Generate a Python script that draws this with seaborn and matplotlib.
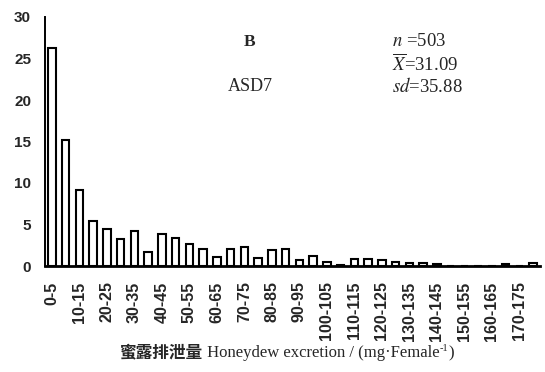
import matplotlib
matplotlib.use("Agg")
import matplotlib.pyplot as plt
import seaborn as sns
import pandas as pd

# honeydew excretion classes (mg per female) and share of females (%)
classes = [f"{lo}-{lo + 5}" for lo in range(0, 180, 5)]
percent = [26.3, 15.2, 9.2, 5.4, 4.4, 3.2, 4.2, 1.7, 3.9, 3.4,
           2.6, 2.1, 1.1, 2.0, 2.3, 1.0, 1.9, 2.1, 0.7, 1.2,
           0.5, 0.1, 0.8, 0.8, 0.7, 0.5, 0.4, 0.4, 0.2, 0.0,
           0.0, 0.0, 0.0, 0.2, 0.0, 0.4]
y_ticks = [0, 5, 10, 15, 20, 25, 30]
tick_labels = classes[::2]

df = pd.DataFrame({"cls": classes, "pct": percent})

sns.set_style("white")
plt.rcParams["mathtext.fontset"] = "stix"

W, H = 545, 372
fig = plt.figure(figsize=(W / 100, H / 100), dpi=100)
ax = fig.add_axes([45 / W, 1 - 266 / H, 495 / W, 249 / H])

sns.barplot(data=df, x="cls", y="pct", order=classes, ax=ax,
            color="white", edgecolor="black", linewidth=1.5, width=0.55,
            saturation=1)

ax.set_xlim(-0.5, len(classes) - 0.5)
ax.set_ylim(0, 30)
for s in ["top", "right"]:
    ax.spines[s].set_visible(False)
ax.spines["left"].set_linewidth(1.4)
ax.spines["bottom"].set_linewidth(2.0)
ax.spines["left"].set_color("black")
ax.spines["bottom"].set_color("black")

ax.set_yticks(y_ticks)
ax.set_yticklabels([str(v) for v in y_ticks], fontsize=11, fontweight="bold",
                   family="Liberation Sans")
ax.tick_params(axis="y", direction="in", length=3, width=1, color="black", pad=10)

ax.set_xticks(range(0, len(classes), 2))
ax.set_xticklabels(tick_labels, rotation=90, fontsize=11.5, fontweight="bold",
                   family="Liberation Sans")
ax.tick_params(axis="x", which="major", length=0, pad=11)
ax.set_xticks([i + 0.5 for i in range(len(classes) - 1)], minor=True)
ax.tick_params(axis="x", which="minor", direction="in", length=3, width=1.2,
               color="black")

ax.set_xlabel("")
ax.set_ylabel("")

serif = "Liberation Serif"
ax.text(0.414, 0.90, "B", transform=ax.transAxes, fontsize=12.5,
        fontweight="bold", family=serif, ha="center", va="center")
ax.text(0.414, 0.719, "ASD7", transform=ax.transAxes, fontsize=13,
        family=serif, ha="center", va="center")
ax.text(0.70, 0.90, r"$n$ =503", transform=ax.transAxes, fontsize=13.5,
        family=serif, ha="left", va="center")
ax.text(0.70, 0.811, r"$\overline{X}$=31.09", transform=ax.transAxes,
        fontsize=13.5, family=serif, ha="left", va="center")
ax.text(0.70, 0.719, r"$sd$=35.88", transform=ax.transAxes, fontsize=13.5,
        family=serif, ha="left", va="center")

# x label built from pieces: bold Chinese, serif English, superscript -1
fs = 12
y_lab = 1 - 357 / H
pieces = [
    ("蜜露排泄量", dict(family="Noto Sans CJK SC", fontweight="bold", fontsize=fs), 0),
    (" Honeydew excretion / (mg·Female", dict(family=serif, fontsize=fs), 0),
    ("-1", dict(family=serif, fontsize=fs * 0.62), 6 / H),
    (")", dict(family=serif, fontsize=fs), 0),
]
fig.canvas.draw()
renderer = fig.canvas.get_renderer()
texts, widths = [], []
for s, kw, dy in pieces:
    t = fig.text(0, y_lab + dy, s, ha="left", va="baseline", **kw)
    widths.append(t.get_window_extent(renderer).width / W)
    texts.append(t)
x = 287 / W - sum(widths) / 2
for t, w in zip(texts, widths):
    t.set_x(x)
    x += w

fig.savefig("out.png", dpi=100)
